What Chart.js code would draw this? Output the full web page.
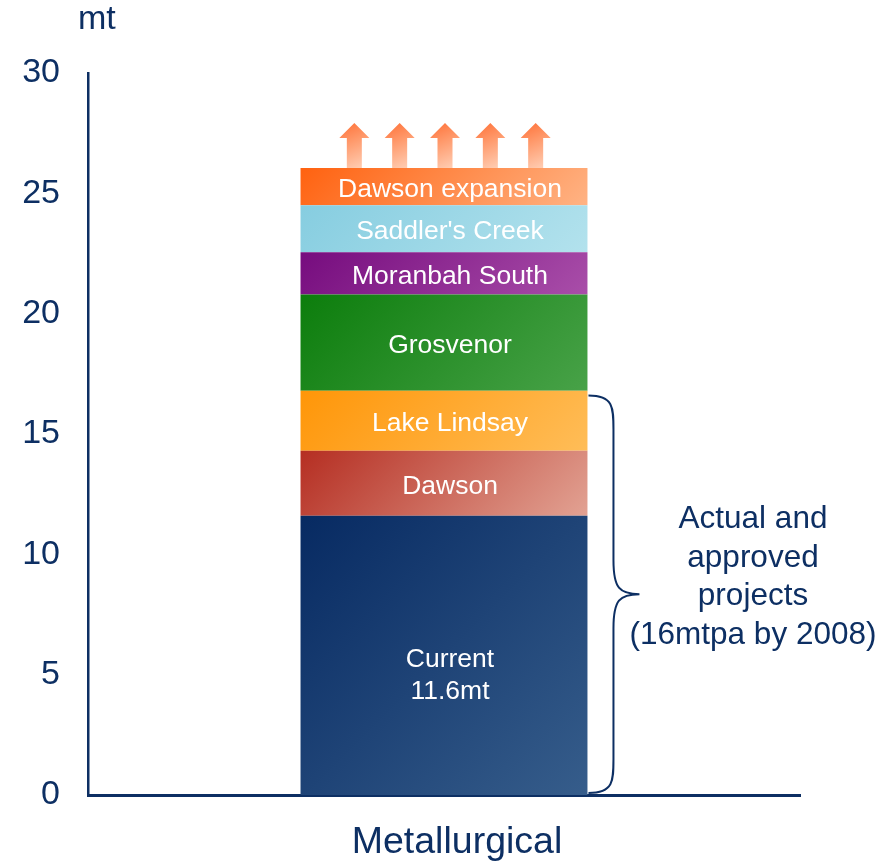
<!DOCTYPE html>
<html>
<head>
<meta charset="utf-8">
<script src="https://cdn.jsdelivr.net/npm/chart.js@4.4.1/dist/chart.umd.min.js"></script>
<style>
  html, body { margin: 0; padding: 0; background: #fff; }
  #wrap { width: 883px; height: 863px; }
</style>
</head>
<body>
<div id="wrap"><canvas id="chart" width="883" height="863"></canvas></div>
<script>
// Data
const categories = ["Metallurgical"];
const segmentNames = ["Current", "Dawson", "Lake Lindsay", "Grosvenor", "Moranbah South", "Saddler's Creek", "Dawson expansion"];
const segmentLabels = [["Current", "11.6mt"], ["Dawson"], ["Lake Lindsay"], ["Grosvenor"], ["Moranbah South"], ["Saddler's Creek"], ["Dawson expansion"]];
const segmentValues = [11.6, 2.7, 2.5, 4.0, 1.75, 1.95, 1.55];
const segmentColors = [
  ["#072a62", "#365d8b"],
  ["#b52e22", "#e2a293"],
  ["#ff9608", "#ffbd58"],
  ["#0c7d0c", "#48a248"],
  ["#760c7e", "#a94ea9"],
  ["#86cde0", "#b3e2ed"],
  ["#ff6210", "#ffb384"],
];
const yTicks = [0, 5, 10, 15, 20, 25, 30];
const braceRange = [0, 16.6];
const braceNote = ["Actual and", "approved", "projects", "(16mtpa by 2008)"];
const arrowCount = 5;

const NAVY = "#0d2f63";
const FONT = "'Liberation Sans', Arial, sans-serif";
const BAR_FRACTION = 0.403;

function cumBelow(i) {
  return segmentValues.slice(0, i).reduce((a, b) => a + b, 0);
}

// 45 degree gradient from the top-left corner to the bottom-right corner
function segGradient(ctx) {
  const chart = ctx.chart;
  const i = ctx.datasetIndex;
  const [c0, c1] = segmentColors[i];
  if (!chart.chartArea || !chart.scales.y) return c0;
  const ys = chart.scales.y, xs = chart.scales.x;
  const lo = cumBelow(i), hi = lo + segmentValues[i];
  const top = ys.getPixelForValue(hi), bot = ys.getPixelForValue(lo);
  const cx = xs.getPixelForValue(0), w = xs.width * BAR_FRACTION;
  const left = cx - w / 2;
  const L = (w + (bot - top)) / 2;
  const g = chart.ctx.createLinearGradient(left, top, left + L, top + L);
  g.addColorStop(0, c0);
  g.addColorStop(1, c1);
  return g;
}

const overlay = {
  id: "overlay",
  afterDatasetsDraw(chart) {
    const c = chart.ctx;
    const ys = chart.scales.y, xs = chart.scales.x;
    const cx = xs.getPixelForValue(0);
    const w = xs.width * BAR_FRACTION;
    const total = segmentValues.reduce((a, b) => a + b, 0);
    const barTop = ys.getPixelForValue(total);
    const barRight = cx + w / 2;
    c.save();

    // Arrows on top of the bar
    const step = w * 0.158;
    const aH = 45, headH = 15, headW = 30, shaftW = 15;
    for (let k = 0; k < arrowCount; k++) {
      const ax = cx + 1 + (k - (arrowCount - 1) / 2) * step;
      const g = c.createLinearGradient(ax - shaftW, barTop - aH, ax + shaftW * 0.3, barTop);
      g.addColorStop(0, "#ff7036");
      g.addColorStop(0.45, "#ff9a6c");
      g.addColorStop(1, "#ffcbb0");
      c.fillStyle = g;
      c.beginPath();
      c.moveTo(ax, barTop - aH);
      c.lineTo(ax + headW / 2, barTop - aH + headH);
      c.lineTo(ax + shaftW / 2, barTop - aH + headH);
      c.lineTo(ax + shaftW / 2, barTop);
      c.lineTo(ax - shaftW / 2, barTop);
      c.lineTo(ax - shaftW / 2, barTop - aH + headH);
      c.lineTo(ax - headW / 2, barTop - aH + headH);
      c.closePath();
      c.fill();
    }

    // Segment labels
    c.fillStyle = "#ffffff";
    c.textAlign = "center";
    c.textBaseline = "middle";
    c.font = "26.5px " + FONT;
    segmentLabels.forEach((lines, i) => {
      const lo = cumBelow(i), hi = lo + segmentValues[i];
      const mid = (ys.getPixelForValue(lo) + ys.getPixelForValue(hi)) / 2;
      const lh = 32;
      const y0 = mid + 3 + (lines.length > 1 ? 17 : 0) - (lines.length - 1) * lh / 2;
      lines.forEach((t, j) => c.fillText(t, cx + 6, y0 + j * lh));
    });

    // Brace
    const bTop = ys.getPixelForValue(braceRange[1]);
    const bBot = ys.getPixelForValue(braceRange[0]) - 2;
    const bMid = (bTop + bBot) / 2;
    const x0 = barRight + 1, x1 = x0 + 25, x2 = x0 + 51, r = 34;
    c.strokeStyle = NAVY;
    c.lineWidth = 2;
    c.beginPath();
    c.moveTo(x0, bTop);
    c.bezierCurveTo(x1, bTop, x1, bTop + r * 0.35, x1, bTop + r);
    c.lineTo(x1, bMid - r);
    c.bezierCurveTo(x1, bMid - 6, x1 + 6, bMid, x2, bMid);
    c.bezierCurveTo(x1 + 6, bMid, x1, bMid + 6, x1, bMid + r);
    c.lineTo(x1, bBot - r);
    c.bezierCurveTo(x1, bBot - r * 0.35, x1, bBot, x0, bBot);
    c.stroke();

    // Note text
    c.fillStyle = NAVY;
    c.font = "31.5px " + FONT;
    const nh = 38.5;
    const ny0 = bMid - 17 - (braceNote.length - 1) * nh / 2;
    braceNote.forEach((t, j) => c.fillText(t, 753, ny0 + j * nh));

    // Unit label
    c.font = "34px " + FONT;
    c.textAlign = "left";
    c.fillText("mt", ys.right - 10, 20);

    // Category label
    c.textAlign = "center";
    c.font = "37.5px " + FONT;
    categories.forEach((t, i) => c.fillText(t, xs.getPixelForValue(i) + 13, ys.bottom + 48));

    c.restore();
  },
};

new Chart(document.getElementById("chart"), {
  type: "bar",
  data: {
    labels: categories,
    datasets: segmentNames.map((name, i) => ({
      label: name,
      data: [segmentValues[i]],
      backgroundColor: segGradient,
      borderWidth: 0,
      barPercentage: BAR_FRACTION,
      categoryPercentage: 1,
    })),
  },
  options: {
    responsive: false,
    devicePixelRatio: 1,
    animation: false,
    layout: { padding: { top: 73, right: 83, left: 0, bottom: 0 } },
    plugins: { legend: { display: false }, tooltip: { enabled: false }, title: { display: false } },
    scales: {
      x: {
        stacked: true,
        grid: { display: false, drawTicks: false },
        border: { color: NAVY, width: 3 },
        ticks: { display: false },
        afterFit: s => { s.height = 68; },
      },
      y: {
        stacked: true,
        min: yTicks[0],
        max: yTicks[yTicks.length - 1],
        afterBuildTicks: s => { s.ticks = yTicks.map(v => ({ value: v })); },
        grid: { display: false, drawTicks: false },
        border: { color: NAVY, width: 2.5 },
        ticks: { color: NAVY, padding: 28, font: { size: 34, family: FONT } },
        afterFit: s => { s.width = 88; },
      },
    },
  },
  plugins: [overlay],
});
</script>
</body>
</html>
